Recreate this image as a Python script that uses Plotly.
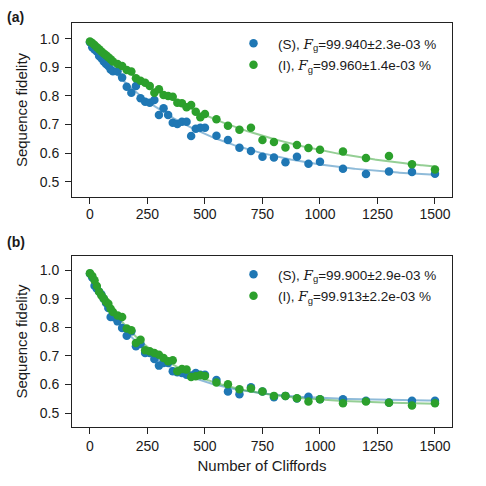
import numpy as np
import plotly.graph_objects as go

# ---- data ----
cliffords = [0, 10, 20, 30, 40, 50, 60, 70, 80, 90,
             100, 120, 140, 160, 180, 200, 220, 240, 260, 280,
             300, 320, 340, 360, 380, 400, 420, 440, 460, 480,
             500, 550, 600, 650, 700, 750, 800, 850, 900, 950,
             1000, 1100, 1200, 1300, 1400, 1500]

a_S = [0.988, 0.970, 0.962, 0.955, 0.940, 0.932, 0.920, 0.912, 0.905, 0.892,
       0.886, 0.885, 0.864, 0.832, 0.811, 0.835, 0.792, 0.780, 0.776, 0.786,
       0.733, 0.757, 0.733, 0.706, 0.702, 0.710, 0.710, 0.660, 0.685, 0.689,
       0.689, 0.661, 0.646, 0.619, 0.607, 0.587, 0.585, 0.568, 0.587, 0.563,
       0.570, 0.545, 0.527, 0.536, 0.534, 0.528]
a_I = [0.990, 0.985, 0.978, 0.970, 0.963, 0.955, 0.948, 0.942, 0.935, 0.928,
       0.920, 0.912, 0.905, 0.891, 0.885, 0.862, 0.853, 0.846, 0.835, 0.811,
       0.823, 0.803, 0.800, 0.797, 0.776, 0.774, 0.760, 0.768, 0.745, 0.725,
       0.737, 0.718, 0.696, 0.682, 0.689, 0.646, 0.639, 0.620, 0.628, 0.618,
       0.612, 0.606, 0.583, 0.590, 0.561, 0.543]
b_S = [0.988, 0.975, 0.946, 0.935, 0.925, 0.915, 0.900, 0.885, 0.868, 0.836,
       0.836, 0.821, 0.798, 0.771, 0.786, 0.734, 0.742, 0.710, 0.710, 0.689,
       0.666, 0.675, 0.675, 0.646, 0.643, 0.640, 0.634, 0.631, 0.640, 0.634,
       0.634, 0.616, 0.575, 0.566, 0.590, 0.575, 0.555, 0.560, 0.551, 0.557,
       0.548, 0.548, 0.543, 0.537, 0.543, 0.543]
b_I = [0.990, 0.980, 0.965, 0.945, 0.925, 0.912, 0.901, 0.890, 0.883, 0.865,
       0.854, 0.842, 0.836, 0.796, 0.790, 0.745, 0.757, 0.720, 0.716, 0.710,
       0.704, 0.693, 0.681, 0.685, 0.646, 0.654, 0.652, 0.626, 0.629, 0.632,
       0.630, 0.607, 0.601, 0.583, 0.586, 0.575, 0.560, 0.560, 0.552, 0.540,
       0.548, 0.534, 0.540, 0.536, 0.526, 0.534]

FSPAN = '<span style="font-family:DejaVu Serif"><i>F</i></span><sub>g</sub>'
labels_a = ["(S), " + FSPAN + "=99.940±2.3e-03 %",
            "(I), " + FSPAN + "=99.960±1.4e-03 %"]
labels_b = ["(S), " + FSPAN + "=99.900±2.9e-03 %",
            "(I), " + FSPAN + "=99.913±2.2e-03 %"]

x_ticks = [0, 250, 500, 750, 1000, 1250, 1500]
y_ticks = [0.5, 0.6, 0.7, 0.8, 0.9, 1.0]

BLUE = "#1f77b4"
GREEN = "#2ca02c"
BLUE_FIT = "rgba(31,119,180,0.5)"
GREEN_FIT = "rgba(44,160,44,0.5)"


def fit_decay(x, y):
    x = np.asarray(x, float)
    y = np.asarray(y, float)
    best = None
    for p in np.linspace(0.990, 0.99995, 4000):
        M = np.column_stack([p ** x, np.ones_like(x)])
        coef, *_ = np.linalg.lstsq(M, y, rcond=None)
        r = np.sum((M @ coef - y) ** 2)
        if best is None or r < best[0]:
            best = (r, p, coef)
    _, p, (A, B) = best
    xs = np.linspace(0, 1500, 300)
    return xs, A * p ** xs + B


fig = go.Figure()

FONT = "Liberation Sans, Arial, sans-serif"
TXT = "#1a1a1a"

panels = [
    ("x", "y", a_S, a_I, labels_a, "legend"),
    ("x2", "y2", b_S, b_I, labels_b, "legend2"),
]
for xa, ya, s_vals, i_vals, labs, leg in panels:
    for vals, fc in ((s_vals, BLUE_FIT), (i_vals, GREEN_FIT)):
        fx, fy = fit_decay(cliffords, vals)
        fig.add_trace(go.Scatter(x=fx, y=fy, mode="lines", xaxis=xa, yaxis=ya,
                                 line=dict(color=fc, width=2), showlegend=False,
                                 hoverinfo="skip"))
    for vals, col, lab, grp in ((s_vals, BLUE, labs[0], "s"), (i_vals, GREEN, labs[1], "i")):
        fig.add_trace(go.Scatter(x=cliffords, y=vals, mode="markers", xaxis=xa, yaxis=ya,
                                 marker=dict(color=col, size=8.5, line=dict(width=0)),
                                 name=lab, legend=leg, legendgroup=grp + xa))

xdom = [72 / 486, 452 / 486]
axis_common = dict(showgrid=False, zeroline=False, showline=True, mirror=True,
                   linecolor="#222222", linewidth=1, ticks="outside", ticklen=6,
                   tickwidth=1, tickcolor="#222222",
                   tickfont=dict(family=FONT, size=14, color=TXT))
title_font = dict(family=FONT, size=15, color=TXT)
legend_common = dict(xanchor="left", yanchor="top", bgcolor="rgba(255,255,255,0)",
                     font=dict(family=FONT, size=13.5, color=TXT),
                     tracegroupgap=1, itemwidth=39)

fig.update_layout(
    width=486, height=486,
    margin=dict(l=0, r=0, t=0, b=0),
    paper_bgcolor="white", plot_bgcolor="white",
    font=dict(family=FONT, size=14, color=TXT),
    xaxis=dict(domain=xdom, anchor="y", range=[-78, 1574], tickvals=x_ticks,
               ticklabelstandoff=-2, **axis_common),
    yaxis=dict(domain=[1 - 197 / 486, 1 - 23 / 486], anchor="x", range=[0.4465, 1.055],
               tickvals=y_ticks, tickformat=".1f", ticklabelstandoff=3,
               title=dict(text="Sequence fidelity", font=title_font, standoff=8),
               **axis_common),
    xaxis2=dict(domain=xdom, anchor="y2", range=[-78, 1574], tickvals=x_ticks,
                title=dict(text="Number of Cliffords", font=title_font, standoff=7),
                **axis_common),
    yaxis2=dict(domain=[1 - 427 / 486, 1 - 256 / 486], anchor="x2", range=[0.451, 1.050],
                tickvals=y_ticks, tickformat=".1f", ticklabelstandoff=3,
                title=dict(text="Sequence fidelity", font=title_font, standoff=8),
                **axis_common),
    legend=dict(x=229 / 486, y=1 - 28 / 486, **legend_common),
    legend2=dict(x=229 / 486, y=1 - 259 / 486, **legend_common),
    annotations=[
        dict(text="<b>(a)</b>", x=5 / 486, y=1 - 16.5 / 486, xref="paper", yref="paper",
             xanchor="left", yanchor="middle", showarrow=False,
             font=dict(family=FONT, size=14, color=TXT)),
        dict(text="<b>(b)</b>", x=5 / 486, y=1 - 242 / 486, xref="paper", yref="paper",
             xanchor="left", yanchor="middle", showarrow=False,
             font=dict(family=FONT, size=14, color=TXT)),
    ],
)

fig.write_html("out.html", config={"displayModeBar": False},
               post_script="document.body.style.margin='0';")
